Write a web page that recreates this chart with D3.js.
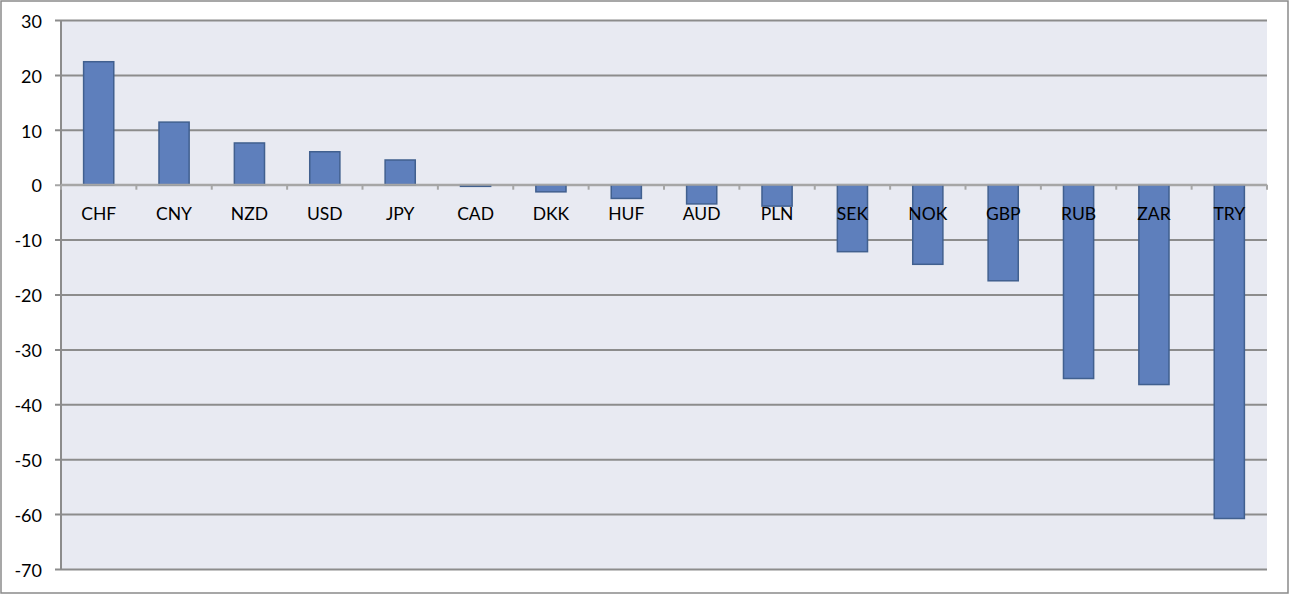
<!DOCTYPE html>
<html>
<head>
<meta charset="utf-8">
<script src="https://cdn.jsdelivr.net/npm/d3@7"></script>
<style>
html,body{margin:0;padding:0;background:#fff;}
svg{display:block;}
text{font-family:Lato,"Liberation Sans",sans-serif;fill:#000;}
</style>
</head>
<body>
<script>
const categories = ["CHF","CNY","NZD","USD","JPY","CAD","DKK","HUF","AUD","PLN","SEK","NOK","GBP","RUB","ZAR","TRY"];
const values = [22.4, 11.4, 7.6, 6.0, 4.5, -0.3, -1.3, -2.5, -3.5, -3.9, -12.2, -14.5, -17.5, -35.3, -36.4, -60.8];
const yTicks = [30, 20, 10, 0, -10, -20, -30, -40, -50, -60, -70];

const W = 1291, H = 595;
const plot = {left: 61, right: 1267, top: 20, bottom: 569};

const svg = d3.select("body").append("svg").attr("width", W).attr("height", H);

// outer border
svg.append("rect").attr("x", 1).attr("y", 1).attr("width", 1287).attr("height", 592)
  .attr("fill", "#fff").attr("stroke", "#8a8a8a").attr("stroke-width", 1.5);

const x = d3.scaleBand().domain(categories).range([plot.left, plot.right]).paddingInner(0).paddingOuter(0);
const y = d3.scaleLinear().domain([-70, 30]).range([plot.bottom, plot.top]);

// plot background
svg.append("rect").attr("x", plot.left).attr("y", plot.top)
  .attr("width", plot.right - plot.left).attr("height", plot.bottom - plot.top)
  .attr("fill", "#E8EAF2");

// y axis with gridlines
const yAxis = d3.axisLeft(y).tickValues(yTicks).tickSize(-(plot.right - plot.left)).tickPadding(0).tickFormat(d => String(d));
const gy = svg.append("g").attr("transform", `translate(${plot.left},0)`).call(yAxis);
gy.select(".domain").remove();
gy.selectAll(".tick line").attr("stroke", "#8c8c8c").attr("stroke-width", 2).attr("x1", -6)
  .filter(d => d === 0).attr("stroke", "#a6a6a6");
gy.selectAll(".tick text").attr("x", -19).attr("font-size", 18).attr("font-family", "Lato, sans-serif")
  .attr("dy", "0.4em").attr("fill", "#000");

// left axis line
svg.append("line").attr("x1", plot.left).attr("x2", plot.left).attr("y1", plot.top).attr("y2", plot.bottom)
  .attr("stroke", "#8c8c8c").attr("stroke-width", 2);

// bars
svg.append("g").selectAll("rect").data(categories).join("rect")
  .attr("x", (d) => x(d) + x.bandwidth() * 0.3)
  .attr("width", x.bandwidth() * 0.4)
  .attr("y", (d, i) => y(Math.max(0, values[i])))
  .attr("height", (d, i) => Math.abs(y(values[i]) - y(0)))
  .attr("fill", "#5E7FBC").attr("stroke", "#41608F").attr("stroke-width", 1.5);

// zero axis line with category tick marks
const xAxis = d3.axisBottom(x).tickSize(0).tickFormat("");
const gx = svg.append("g").attr("transform", `translate(0,${y(0)})`).call(xAxis);
gx.select(".domain").remove();
svg.append("line").attr("x1", plot.left).attr("x2", plot.right).attr("y1", y(0)).attr("y2", y(0))
  .attr("stroke", "#a6a6a6").attr("stroke-width", 2);
const bounds = categories.map(c => x(c)).concat([plot.right]);
svg.append("g").selectAll("line").data(bounds).join("line")
  .attr("x1", d => d).attr("x2", d => d).attr("y1", y(0)).attr("y2", y(0) + 5)
  .attr("stroke", "#a6a6a6").attr("stroke-width", 2);

// category labels
svg.append("g").selectAll("text").data(categories).join("text")
  .attr("x", d => x(d) + x.bandwidth() / 2)
  .attr("y", 220)
  .attr("text-anchor", "middle").attr("font-size", 17.5)
  .text(d => d);
</script>
</body>
</html>
